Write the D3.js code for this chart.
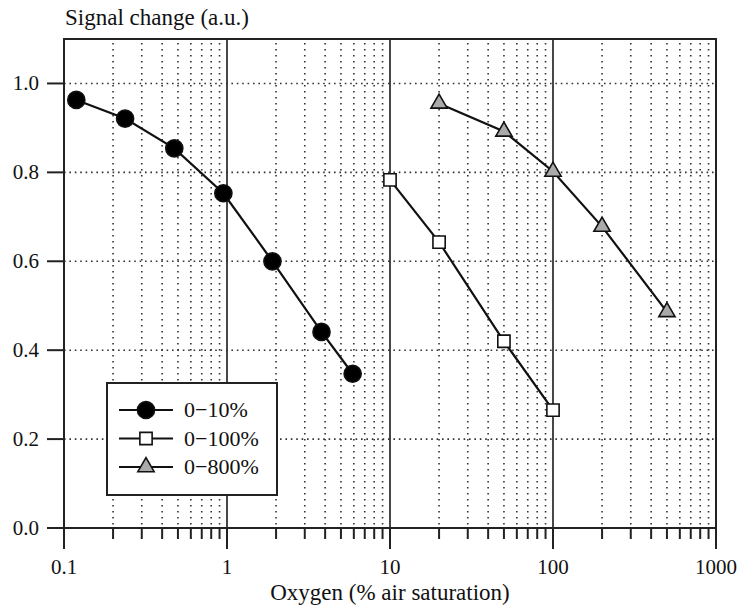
<!DOCTYPE html>
<html>
<head>
<meta charset="utf-8">
<script src="https://cdn.jsdelivr.net/npm/d3@7"></script>
<style>
  body { margin:0; background:#fff; }
  text { font-family:"Liberation Serif","Times New Roman",serif; fill:#111; }
</style>
</head>
<body>
<div id="graphique"></div>
<script>
// O2 calibration curves, signal change vs oxygen (log scale)
var lowX  = [0.119, 0.237, 0.475, 0.95, 1.9, 3.8, 5.9];
var lowY  = [0.963, 0.921, 0.854, 0.753, 0.600, 0.441, 0.347];
var midX  = [10, 20, 50, 100];
var midY  = [0.783, 0.643, 0.420, 0.265];
var highX = [20, 50, 100, 200, 500];
var highY = [0.955, 0.892, 0.802, 0.678, 0.486];

var seriesNames = ["0\u221210%", "0\u2212100%", "0\u2212800%"];
var xTicks = [0.1, 1, 10, 100, 1000];
var xTickLabels = ["0.1", "1", "10", "100", "1000"];
var yTicks = [0, 0.2, 0.4, 0.6, 0.8, 1.0];

var width = 741, height = 608;
var pLeft = 64, pRight = 716, pTop = 39, pBottom = 528;

var x_scale = d3.scaleLog().domain([0.1, 1000]).range([pLeft, pRight]);
var y_scale = d3.scaleLinear().domain([0, 1.1]).range([pBottom, pTop]);

var svg = d3.select("#graphique").append("svg")
    .attr("width", width).attr("height", height);

// minor values 2..9 per decade
var minors = [];
[0.1, 1, 10, 100].forEach(function(d){
    for (var k = 2; k <= 9; k++) minors.push(d * k);
});

// dotted minor verticals
svg.append("g").selectAll("line").data(minors).join("line")
    .attr("x1", d => x_scale(d)).attr("x2", d => x_scale(d))
    .attr("y1", pTop + 4).attr("y2", pBottom)
    .attr("stroke", "#333").attr("stroke-width", 1.6)
    .attr("stroke-dasharray", "1.6,4.4");

// dotted horizontals
svg.append("g").selectAll("line").data(yTicks.slice(1)).join("line")
    .attr("x1", pLeft).attr("x2", pRight)
    .attr("y1", d => y_scale(d)).attr("y2", d => y_scale(d))
    .attr("stroke", "#333").attr("stroke-width", 1.6)
    .attr("stroke-dasharray", "1.6,3.8");

// solid decade lines
svg.append("g").selectAll("line").data([1, 10, 100]).join("line")
    .attr("x1", d => x_scale(d)).attr("x2", d => x_scale(d))
    .attr("y1", pTop).attr("y2", pBottom)
    .attr("stroke", "#333").attr("stroke-width", 1.8);

// frame
svg.append("path")
    .attr("d", "M" + pLeft + "," + pBottom + " V" + pTop + " H" + pRight + " V" + pBottom)
    .attr("fill", "none").attr("stroke", "#222").attr("stroke-width", 2);
svg.append("line")
    .attr("x1", pLeft - 17).attr("x2", pRight)
    .attr("y1", pBottom).attr("y2", pBottom)
    .attr("stroke", "#222").attr("stroke-width", 2);

// x ticks
svg.append("g").selectAll("line").data(xTicks).join("line")
    .attr("x1", d => x_scale(d)).attr("x2", d => x_scale(d))
    .attr("y1", pBottom).attr("y2", pBottom + 21)
    .attr("stroke", "#222").attr("stroke-width", 2);
svg.append("g").selectAll("line").data(minors).join("line")
    .attr("x1", d => x_scale(d)).attr("x2", d => x_scale(d))
    .attr("y1", pBottom).attr("y2", pBottom + 11)
    .attr("stroke", "#222").attr("stroke-width", 2);
svg.append("g").selectAll("text").data(xTicks).join("text")
    .attr("x", d => x_scale(d)).attr("y", pBottom + 46)
    .attr("text-anchor", "middle").attr("font-size", 21)
    .text((d, i) => xTickLabels[i]);

// y ticks
svg.append("g").selectAll("line").data(yTicks).join("line")
    .attr("x1", pLeft - 17).attr("x2", pLeft)
    .attr("y1", d => y_scale(d)).attr("y2", d => y_scale(d))
    .attr("stroke", "#222").attr("stroke-width", 2);
svg.append("g").selectAll("text").data(yTicks).join("text")
    .attr("x", pLeft - 25).attr("y", d => y_scale(d) + 7)
    .attr("text-anchor", "end").attr("font-size", 21)
    .text(d => d.toFixed(1));

// axis titles
svg.append("text").attr("x", pLeft + 1).attr("y", 25)
    .attr("font-size", 23).text("Signal change (a.u.)");
svg.append("text").attr("x", (pLeft + pRight) / 2).attr("y", 600)
    .attr("text-anchor", "middle").attr("font-size", 23)
    .text("Oxygen (% air saturation)");

// series
var line = d3.line().x(d => x_scale(d[0])).y(d => y_scale(d[1]));
var series = [
    {x: lowX, y: lowY, shape: d3.symbolCircle, size: 230, fill: "#000"},
    {x: midX, y: midY, shape: d3.symbolSquare, size: 150, fill: "#fff"},
    {x: highX, y: highY, shape: d3.symbolTriangle, size: 115, fill: "#aaa"}
];
var sym = d3.symbol();

series.forEach(function(s){
    var pts = s.x.map((v, i) => [v, s.y[i]]);
    svg.append("path").attr("d", line(pts))
        .attr("fill", "none").attr("stroke", "#111").attr("stroke-width", 2.2);
    svg.append("g").selectAll("path").data(pts).join("path")
        .attr("transform", d => "translate(" + x_scale(d[0]) + "," + y_scale(d[1]) + ")")
        .attr("d", sym.type(s.shape).size(s.size)())
        .attr("fill", s.fill).attr("stroke", "#111").attr("stroke-width", 1.6);
});

// legend
var lg = svg.append("g").attr("transform", "translate(107,383)");
lg.append("rect").attr("width", 170).attr("height", 112)
    .attr("fill", "#fff").attr("stroke", "#222").attr("stroke-width", 2);
series.forEach(function(s, i){
    var yy = 27 + i * 28.5;
    lg.append("line").attr("x1", 12).attr("x2", 66).attr("y1", yy).attr("y2", yy)
        .attr("stroke", "#111").attr("stroke-width", 2.2);
    lg.append("path").attr("transform", "translate(39," + yy + ")")
        .attr("d", sym.type(s.shape).size(s.size)())
        .attr("fill", s.fill).attr("stroke", "#111").attr("stroke-width", 1.6);
    lg.append("text").attr("x", 77).attr("y", yy + 7)
        .attr("font-size", 22).text(seriesNames[i]);
});
</script>
</body>
</html>
